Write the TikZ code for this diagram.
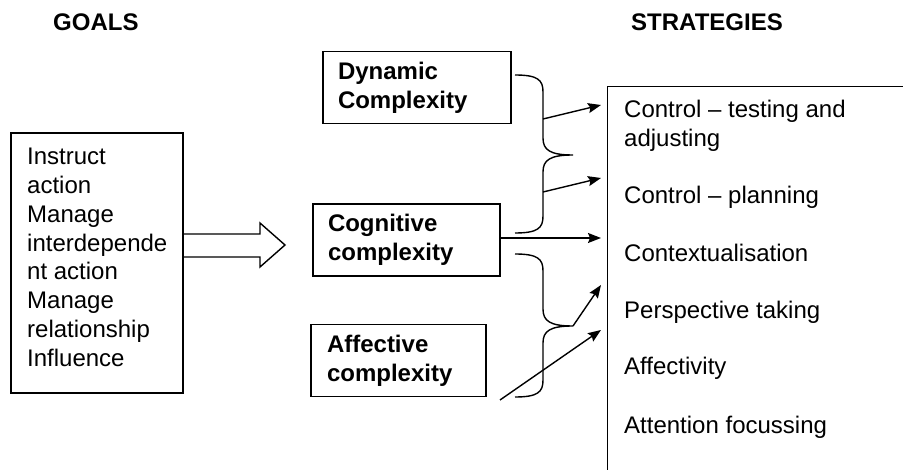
\documentclass[tikz,border=0pt]{standalone}
\usepackage{fontspec}
\setmainfont{Liberation Sans}
\usepackage{tikz}
\usetikzlibrary{arrows.meta}

\tikzset{
    heading/.style = {anchor=base west, inner sep=0pt, font=\fontsize{24}{28.8}\selectfont\bfseries},
    cxbox/.style = {draw, line width=1.4pt, align=left, inner xsep=15pt, inner ysep=0pt,
        minimum height=72pt, font=\fontsize{24}{28.8}\selectfont\bfseries},
    strat/.style = {anchor=north west, inner sep=0pt, font=\fontsize{24}{28.8}\selectfont},
    conn/.style = {line width=1.4pt, -{Stealth[length=13pt, width=10pt, inset=2pt]}},
    curly/.style = {line width=1.4pt}
}

\begin{document}
\begin{tikzpicture}[x=1pt, y=-1pt]
    \clip (0, 0) rectangle (903, 470);
    \fill[white] (0, 0) rectangle (903, 470);
    % headings
    \node[heading] (goalhead) at (53, 31) {GOALS};
    \node[heading] (strathead) at (631, 31) {STRATEGIES};
    % goals
    \node[draw, line width=1.4pt, minimum width=172pt, minimum height=260pt, inner sep=0pt] (goals) at (97, 263) {};
    \node[strat, align=left] (goallist) at (27, 148) {Instruct\\action\\Manage\\interdepende\\nt action\\Manage\\relationship\\Influence};
    \draw[line width=1.4pt] (183, 234) -- (260, 234) -- (260, 223) -- (285, 245) -- (260, 267) -- (260, 257) -- (183, 257);
    % complexities
    \node[cxbox, text width=158pt] (dynamic) at (417, 87.5) {Dynamic\\Complexity};
    \node[cxbox, text width=157pt] (cognitive) at (406.5, 240) {Cognitive\\complexity};
    \node[cxbox, inner xsep=16pt, text width=143pt] (affective) at (398.5, 360.5) {Affective\\complexity};
    % strategies
    \node[draw, line width=1.4pt, anchor=north west, minimum width=340pt, minimum height=420pt, inner sep=0pt] (strategies) at (607, 86) {};
    \node[strat, align=left] (ctrltest) at (624, 99.8) {Control -- testing and\\adjusting};
    \node[strat] (ctrlplan) at (624, 185.8) {Control -- planning};
    \node[strat] (context) at (624, 243.8) {Contextualisation};
    \node[strat] (persp) at (624, 300.8) {Perspective taking};
    \node[strat] (affect) at (624, 356.8) {Affectivity};
    \node[strat] (attn) at (624, 415.8) {Attention focussing};
    % braces
    \draw[curly] (515, 75) .. controls (538, 75) and (543, 80) .. (543, 92) -- (543, 138)
        .. controls (543, 150) and (550, 155) .. (573, 155)
        .. controls (550, 155) and (543, 160) .. (543, 172) -- (543, 216)
        .. controls (543, 228) and (538, 233) .. (515, 233);
    \draw[curly] (515, 254) .. controls (538, 254) and (543, 259) .. (543, 271) -- (543, 309)
        .. controls (543, 321) and (550, 326) .. (573, 326)
        .. controls (550, 326) and (543, 331) .. (543, 343) -- (543, 380)
        .. controls (543, 392) and (538, 397) .. (515, 397);
    \coordinate (b1) at (543, 119);
    \coordinate (b2) at (543, 192);
    \coordinate (b3) at (573, 326);
    \coordinate (from) at (500, 400);
    \coordinate (t1) at (601, 105);
    \coordinate (t2) at (601, 178);
    \coordinate (t3) at (601, 238);
    \coordinate (t4) at (601, 285);
    \coordinate (t5) at (601, 330);
    % arrows
    \draw[conn] (b1) -- (t1);
    \draw[conn] (b2) -- (t2);
    \draw[conn] (cognitive.east |- t3) -- (t3);
    \draw[conn] (b3) -- (t4);
    \draw[conn] (from) -- (t5);
\end{tikzpicture}
\end{document}
